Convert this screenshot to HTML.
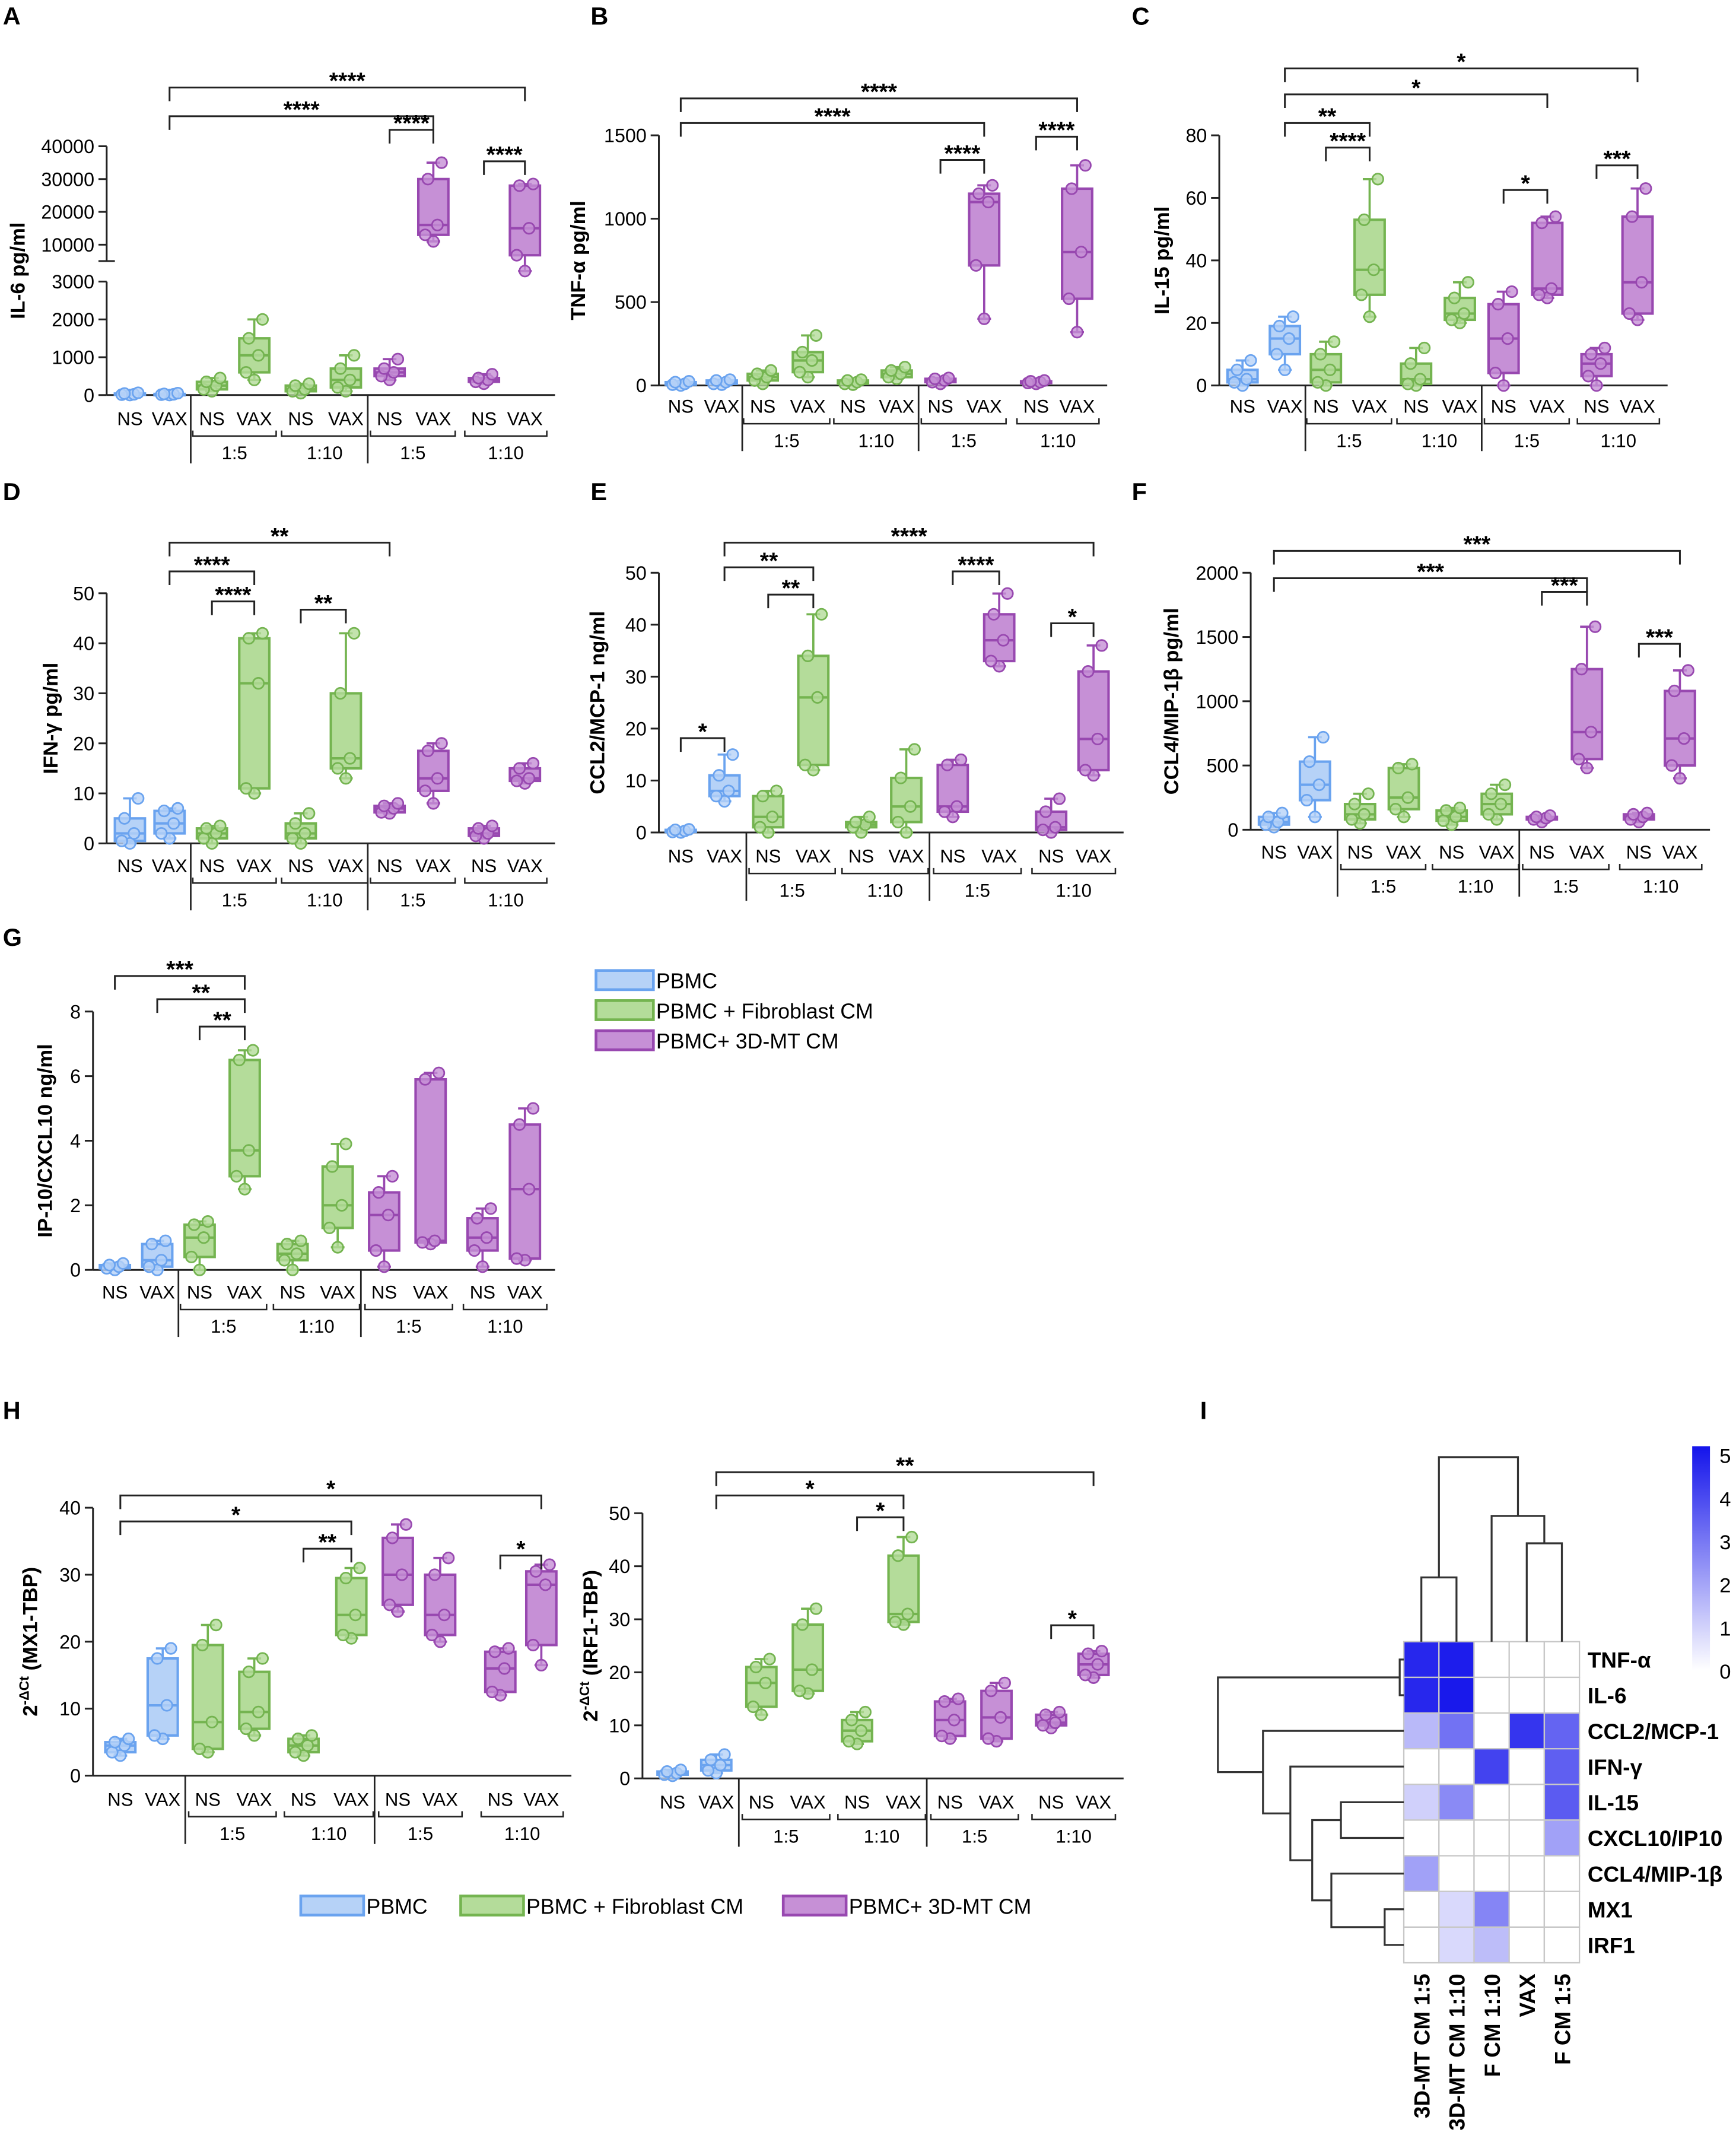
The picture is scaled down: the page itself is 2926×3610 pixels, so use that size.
<!DOCTYPE html>
<html><head><meta charset="utf-8"><style>
html,body{margin:0;padding:0;background:#fff;}
svg{display:block;font-family:"Liberation Sans",sans-serif;}
</style></head><body>
<svg id="fig" width="2926" height="3610" viewBox="0 0 1270 1567" xmlns="http://www.w3.org/2000/svg"></svg>
<script>
// ---------- data (box stats: [min,q1,median,q3,max]) ----------
const groupLabels = ["NS","VAX","NS","VAX","NS","VAX","NS","VAX","NS","VAX"];
const subLabels = ["1:5","1:10","1:5","1:10"];
const seriesNames = ["PBMC","PBMC + Fibroblast CM","PBMC+ 3D-MT CM"];

const il6Data = [[0,10,20,40,60],[0,10,20,30,50],[100,150,250,350,450],[400,600,1050,1500,2000],[50,100,150,250,300],[100,200,400,700,1050],[400,500,600,700,950],[11000,13000,16000,30000,35000],[300,350,400,450,550],[5000,8000,15000,28000,28500]];
const tnfData = [[0,5,10,20,25],[5,10,20,30,35],[10,30,50,70,90],[50,80,150,200,300],[5,10,20,30,35],[40,50,70,90,110],[10,20,30,40,45],[400,720,1100,1150,1200],[10,15,20,25,30],[320,520,800,1180,1320]];
const il15Data = [[0,1,2,5,8],[5,10,15,19,22],[0,1,5,10,14],[22,29,37,53,66],[0,0.5,2,7,12],[20,21,23,28,33],[0,4,15,26,30],[28,29,31,52,54],[0,3,7,10,12],[21,23,33,54,63]];
const ifnData = [[0,0.5,2,5,9],[1,2,4,6.5,7],[0,1,2,3,3.5],[10,11,32,41,42],[0,1,2,4,6],[13,15,17,30,42],[6,6.2,7,7.5,8],[8,10.5,13,18.5,20],[1,1.5,2,3,3.5],[12,12.5,13,15,16]];
const ccl2Data = [[0,0.1,0.3,0.5,0.6],[6,7,8,11,15],[0,1,3,7,8],[12,13,26,34,42],[0,1,1.5,2,3],[0,2,5,10.5,16],[3,4,5,13,14],[32,33,37,42,46],[0,0.5,1,4,6.5],[11,12,18,31,36]];
const ccl4Data = [[20,40,60,100,130],[100,230,350,530,720],[50,80,120,200,280],[100,160,250,480,510],[40,70,100,150,170],[80,120,200,280,350],[60,80,90,100,110],[480,550,760,1250,1580],[60,80,100,120,130],[400,500,710,1080,1240]];
const ip10Data = [[0,0.05,0.1,0.15,0.2],[0,0.1,0.3,0.8,0.9],[0,0.4,1,1.4,1.5],[2.5,2.9,3.7,6.5,6.8],[0,0.3,0.5,0.8,0.9],[0.7,1.3,2,3.2,3.9],[0.1,0.6,1.7,2.4,2.9],[0.8,0.85,0.9,5.9,6.1],[0.1,0.6,1,1.6,1.9],[0.3,0.35,2.5,4.5,5]];
const mx1Data = [[3,3.5,4.5,5,5.5],[5.5,6,10.5,17.5,19],[3.5,4,8,19.5,22.5],[6,7,9.5,15.5,17.5],[3,3.5,4.5,5.5,6],[20.5,21,24,29.5,31],[24.5,25.5,30,35.5,37.5],[20,21,24,30,32.5],[12,12.5,16,18.5,19],[16.5,19.5,28.5,30.5,31.5]];
const irf1Data = [[0.5,0.7,1,1.3,1.6],[1,1.5,2.5,3.5,4.5],[12,13.5,18,21,22.5],[16,16.5,20.5,29,32],[6.5,7,9,11,12.5],[29,29.5,31,42,45.5],[7.5,8,11,14.5,15],[7,7.5,11.5,16.5,18],[9.5,10,10.5,12,12.5],[19,19.5,21.5,23.5,24]];

const il6Ticks=[0,1000,2000,3000,10000,20000,30000,40000];
const tnfTicks=[0,500,1000,1500];
const il15Ticks=[0,20,40,60,80];
const ifnTicks=[0,10,20,30,40,50];
const ccl2Ticks=[0,10,20,30,40,50];
const ccl4Ticks=[0,500,1000,1500,2000];
const ip10Ticks=[0,2,4,6,8];
const mx1Ticks=[0,10,20,30,40];
const irf1Ticks=[0,10,20,30,40,50];

// significance: [groupA, groupB, label]
const sigA=[[1,9,"****"],[1,7,"****"],[6,7,"****"],[8,9,"****"]];
const sigB=[[0,9,"****"],[0,7,"****"],[6,7,"****"],[8,9,"****"]];
const sigC=[[1,9,"*"],[1,7,"*"],[1,3,"**"],[2,3,"****"],[6,7,"*"],[8,9,"***"]];
const sigD=[[1,6,"**"],[1,3,"****"],[2,3,"****"],[4,5,"**"]];
const sigE=[[1,9,"****"],[1,3,"**"],[2,3,"**"],[6,7,"****"],[8,9,"*"],[0,1,"*"]];
const sigF=[[0,9,"***"],[0,7,"***"],[6,7,"***"],[8,9,"***"]];
const sigG=[[0,3,"***"],[1,3,"**"],[2,3,"**"]];
const sigH1=[[0,9,"*"],[0,5,"*"],[4,5,"**"],[8,9,"*"]];
const sigH2=[[1,9,"**"],[1,5,"*"],[4,5,"*"],[8,9,"*"]];

// heatmap
const hmRows=["TNF-α","IL-6","CCL2/MCP-1","IFN-γ","IL-15","CXCL10/IP10","CCL4/MIP-1β","MX1","IRF1"];
const hmCols=["3D-MT CM 1:5","3D-MT CM 1:10","F CM 1:10","VAX","F CM 1:5"];
const hmVals=[[4.6,4.8,0,0,0],[4.6,4.9,0,0,0],[1.5,3,0,4.3,3.3],[0,0,4,0,3.4],[1,2.5,0,0,3.5],[0,0,0,0,2],[2,0,0,0,0],[0,0.8,2.6,0,0],[0,0.8,1.4,0,0]];
const cbTicks=[0,1,2,3,4,5];

// ---------- drawing ----------
const NS="http://www.w3.org/2000/svg";
const svg=document.getElementById("fig");
function el(tag,attrs,parent){const e=document.createElementNS(NS,tag);for(const k in attrs)e.setAttribute(k,attrs[k]);(parent||svg).appendChild(e);return e;}
function txt(x,y,s,attrs,parent){const t=el("text",Object.assign({x:x,y:y},attrs||{}),parent);t.textContent=s;return t;}
const COL=[{s:"#6aa3ef",f:"#b6d2f7"},{s:"#74b450",f:"#b4dc9a"},{s:"#9848b0",f:"#c690d6"}];
function colorOf(i){return i<2?COL[0]:(i<6?COL[1]:COL[2]);}

function panel(p){
  const g=el("g",{});
  
  
  const y=p.scale;
  const L=txt(p.letterX,p.letterY,p.letter,{"font-size":18,"font-weight":"bold"},g);
  
  
  const ax=el("g",{},g);
  
  
  if(p.brk){
    el("line",{x1:p.ax,y1:y(0),x2:p.ax,y2:y(3000),stroke:"#222","stroke-width":1.3},ax);
    el("line",{x1:p.ax,y1:191,x2:p.ax,y2:y(40000),stroke:"#222","stroke-width":1.3},ax);
    el("line",{x1:p.ax-6,y1:191,x2:p.ax+6,y2:191,stroke:"#222","stroke-width":1.3},ax);
  } else {
    el("line",{x1:p.ax,y1:y(0),x2:p.ax,y2:y(p.ticks[p.ticks.length-1]),stroke:"#222","stroke-width":1.3},ax);
  }
  p.ticks.forEach(t=>{
    el("line",{x1:p.ax-6,y1:y(t),x2:p.ax,y2:y(t),stroke:"#222","stroke-width":1.3},ax);
    const tl=txt(p.ax-9,y(t)+5,String(t),{"font-size":14,"text-anchor":"end"},ax);
    
    
  });
  const yt=txt(0,0,p.title,{"font-size":15,"font-weight":"bold","text-anchor":"middle",transform:`translate(${p.titleX},${(y(0)+y(p.ticks[p.ticks.length-1]))/2}) rotate(-90)`},g);
  
  
  if(p.sup){yt.textContent="";const a=el("tspan",{},yt);a.textContent="2";const b=el("tspan",{dy:-6,"font-size":10},yt);b.textContent="-ΔCt";const c=el("tspan",{dy:6},yt);c.textContent=p.title;}
  const bx2=p.xs[9]+22;
  el("line",{x1:p.ax,y1:y(0),x2:bx2,y2:y(0),stroke:"#222","stroke-width":1.3},g);
  [1,5].forEach(i=>{const sx=(p.xs[i]+p.xs[i+1])/2;el("line",{x1:sx,y1:y(0),x2:sx,y2:p.labY+28,stroke:"#222","stroke-width":1.2},g);});
  p.xs.forEach((x,i)=>{
    const t=txt(x,p.labY,groupLabels[i],{"font-size":13.5,"text-anchor":"middle"},g);
    
    
  });
  for(let k=0;k<4;k++){
    const a=p.xs[2+2*k]-14,b=p.xs[3+2*k]+16,uy=p.labY+8;
    el("path",{d:`M${a},${uy-4}V${uy}H${b}V${uy-4}`,fill:"none",stroke:"#222","stroke-width":1.1},g);
    const s=txt((a+b)/2,uy+17,subLabels[k],{"font-size":13.5,"text-anchor":"middle"},g);
    
    
  }
  p.data.forEach((d,i)=>{
    const c=colorOf(i),x=p.xs[i],w=p.bw||22;
    const bg=el("g",{},g);
    
    
    el("line",{x1:x,y1:y(d[0]),x2:x,y2:y(d[4]),stroke:c.s,"stroke-width":1.6},bg);
    el("line",{x1:x-5,y1:y(d[0]),x2:x+5,y2:y(d[0]),stroke:c.s,"stroke-width":1.6},bg);
    el("line",{x1:x-5,y1:y(d[4]),x2:x+5,y2:y(d[4]),stroke:c.s,"stroke-width":1.6},bg);
    el("rect",{x:x-w/2,y:y(d[3]),width:w,height:Math.max(1,y(d[1])-y(d[3])),fill:c.f,stroke:c.s,"stroke-width":1.8},bg);
    el("line",{x1:x-w/2,y1:y(d[2]),x2:x+w/2,y2:y(d[2]),stroke:c.s,"stroke-width":1.8},bg);
    const offs=[0,-6,3,-4,6];
    d.forEach((v,j)=>{el("circle",{cx:x+offs[j],cy:y(v),r:4,fill:c.f,"fill-opacity":0.8,stroke:c.s,"stroke-width":1.2},bg);});
  });
  p.sig.forEach((s,k)=>{
    const a=p.xs[s[0]],b=p.xs[s[1]],yy=p.sigY[k];
    const sg=el("g",{},g);
    
    
    el("path",{d:`M${a},${yy+10}V${yy}H${b}V${yy+10}`,fill:"none",stroke:"#222","stroke-width":1.3},sg);
    txt((a+b)/2,yy+1,s[2],{"font-size":17,"font-weight":"bold","text-anchor":"middle"},sg);
  });
}
function lin(v0,y0,v1,y1){return v=>y0+(v-v0)*(y1-y0)/(v1-v0);}

const aLow=lin(0,289,3000,206), aMid=lin(3000,206,10000,179), aHigh=lin(10000,179,40000,107);
panel({name:"panel-a",letter:"A",letterX:2,letterY:18,ax:78,titleX:18,title:"IL-6 pg/ml",brk:true,
  scale:v=>v<=3000?aLow(v):(v<10000?aMid(v):aHigh(v)),ticks:il6Ticks,data:il6Data,
  xs:[95,124,155,186,220,253,285,317,354,384],labY:311,sig:sigA,sigY:[64,85,95,118]});
panel({name:"panel-b",letter:"B",letterX:432,letterY:18,ax:482,titleX:428,title:"TNF-α pg/ml",
  scale:lin(0,282,1500,99),ticks:tnfTicks,data:tnfData,
  xs:[498,528,558,591,624,656,688,720,758,788],labY:302,sig:sigB,sigY:[72,90,117,100]});
panel({name:"panel-c",letter:"C",letterX:828,letterY:18,ax:892,titleX:855,title:"IL-15 pg/ml",
  scale:lin(0,282,80,99),ticks:il15Ticks,data:il15Data,
  xs:[909,940,970,1002,1036,1068,1100,1132,1168,1198],labY:302,sig:sigC,sigY:[50,69,90,108,139,121]});
panel({name:"panel-d",letter:"D",letterX:2,letterY:366,ax:78,titleX:42,title:"IFN-γ pg/ml",
  scale:lin(0,617,50,434),ticks:ifnTicks,data:ifnData,
  xs:[95,124,155,186,220,253,285,317,354,384],labY:638,sig:sigD,sigY:[397,418,440,446]});
panel({name:"panel-e",letter:"E",letterX:432,letterY:366,ax:482,titleX:442,title:"CCL2/MCP-1 ng/ml",
  scale:lin(0,609,50,419),ticks:ccl2Ticks,data:ccl2Data,
  xs:[498,530,562,595,630,663,697,731,769,800],labY:631,sig:sigE,sigY:[397,415,435,418,456,540]});
panel({name:"panel-f",letter:"F",letterX:828,letterY:366,ax:915,titleX:862,title:"CCL4/MIP-1β pg/ml",
  scale:lin(0,607,2000,419),ticks:ccl4Ticks,data:ccl4Data,
  xs:[932,962,995,1027,1062,1095,1128,1161,1199,1229],labY:628,sig:sigF,sigY:[403,423,433,471]});
panel({name:"panel-g",letter:"G",letterX:2,letterY:692,ax:68,titleX:38,title:"IP-10/CXCL10 ng/ml",
  scale:lin(0,929,8,740),ticks:ip10Ticks,data:ip10Data,
  xs:[84,115,146,179,214,247,281,315,353,384],labY:950,sig:sigG,sigY:[714,731,751]});
panel({name:"panel-h-mx1",letter:"H",letterX:2,letterY:1038,ax:68,titleX:27,title:" (MX1-TBP)",sup:true,
  scale:lin(0,1299,40,1103),ticks:mx1Ticks,data:mx1Data,
  xs:[88,119,152,186,222,257,291,322,366,396],labY:1321,sig:sigH1,sigY:[1094,1113,1133,1138]});
panel({name:"panel-h-irf1",letter:"",letterX:0,letterY:0,ax:470,titleX:437,title:" (IRF1-TBP)",sup:true,
  scale:lin(0,1301,50,1107),ticks:irf1Ticks,data:irf1Data,
  xs:[492,524,557,591,627,661,695,729,769,800],labY:1323,sig:sigH2,sigY:[1077,1094,1110,1189]});

function legend(items,name){
  const lg=el("g",{});
  
  
  items.forEach((it,i)=>{
    const c=COL[i];
    const e=el("g",{},lg);
    
    
    el("rect",{x:it[0],y:it[1]-8,width:it[2],height:14,fill:c.f,stroke:c.s,"stroke-width":2},e);
    txt(it[0]+it[2]+2,it[1]+5,seriesNames[i],{"font-size":15.5},e);
  });
}
legend([[436,718,42],[436,740,42],[436,762,42]],"legend-g");
legend([[220,1395,46],[337,1395,46],[573,1395,46]],"legend-h");

const hx0=1027,hy0=1201,cw=25.7,ch=26.1;
const hl=txt(878,1038,"I",{"font-size":18,"font-weight":"bold"});


function hcol(v){const t=Math.max(0,Math.min(1,v/5));const r=Math.round(255-t*(255-20)),g=Math.round(255-t*(255-20)),b=Math.round(255-t*(255-235));return `rgb(${r},${g},${b})`;}
const hm=el("g",{});


hmVals.forEach((row,r)=>row.forEach((v,c)=>{
  const cell=el("rect",{x:hx0+c*cw,y:hy0+r*ch,width:cw,height:ch,fill:hcol(v),stroke:"#c8c8c8","stroke-width":1},hm);
  
  
}));
hmRows.forEach((s,r)=>{const t=txt(hx0+5*cw+6,hy0+r*ch+19,s,{"font-size":16,"font-weight":"bold"},hm);});
hmCols.forEach((s,c)=>{const x=hx0+c*cw+cw/2+6;const t=txt(0,0,s,{"font-size":16,"font-weight":"bold","text-anchor":"end",transform:`translate(${x},${hy0+9*ch+8}) rotate(-90)`},hm);});
const dg=el("g",{fill:"none",stroke:"#333","stroke-width":1.4});


const cx=i=>hx0+i*cw+cw/2, ry=i=>hy0+i*ch+ch/2;
[[cx(0),1201,1154,cx(1),1201],[cx(3),1201,1129,cx(4),1201],[cx(2),1201,1109,(cx(3)+cx(4))/2,1129],[(cx(0)+cx(1))/2,1154,1066,((cx(3)+cx(4))/2+cx(2))/2,1109]].forEach(d=>{
  el("path",{d:`M${d[0]},${d[1]}V${d[2]}H${d[3]}V${d[4]}`},dg);
});
el("path",{d:`M${hx0},${ry(0)}H${hx0-3}V${ry(1)}H${hx0}`},dg);
[[1013,ry(7),ry(8),hx0,hx0],[981,ry(4),ry(5),hx0,hx0],[974,ry(6),(ry(7)+ry(8))/2,hx0,1013],[960,(ry(4)+ry(5))/2,((ry(7)+ry(8))/2+ry(6))/2,981,974]].forEach(d=>{
  el("path",{d:`M${d[3]},${d[1]}H${d[0]}V${d[2]}H${d[4]}`},dg);
});
const m1=((ry(4)+ry(5))/2+((ry(7)+ry(8))/2+ry(6))/2)/2;
el("path",{d:`M${hx0},${ry(3)}H944V${m1}H960`},dg);
const m2=(ry(3)+m1)/2;
el("path",{d:`M${hx0},${ry(2)}H924V${m2}H944`},dg);
const m3=(ry(2)+m2)/2;
el("path",{d:`M${hx0-3},${(ry(0)+ry(1))/2}H891V${m3}H924`},dg);
const cb=el("g",{});


const defs=el("defs",{},cb);
const lgd=el("linearGradient",{id:"cbg",x1:0,y1:1,x2:0,y2:0},defs);
el("stop",{offset:0,"stop-color":hcol(0)},lgd);el("stop",{offset:1,"stop-color":hcol(5)},lgd);
const cbY=v=>1222-v*(1222-1058)/5.2;
el("rect",{x:1238,y:cbY(5.2),width:13,height:cbY(0)-cbY(5.2),fill:"url(#cbg)"},cb);
cbTicks.forEach(t=>{const l=txt(1258,cbY(t)+6,String(t),{"font-size":15},cb);});
</script>
</body></html>
